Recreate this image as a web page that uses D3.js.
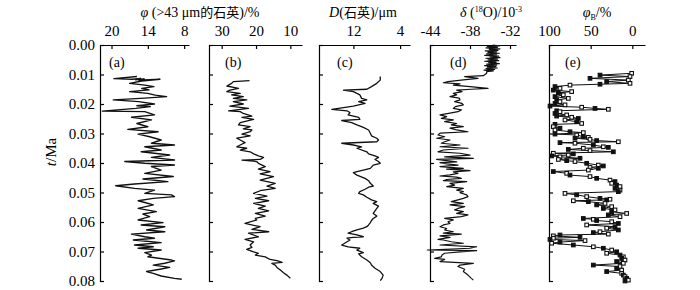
<!DOCTYPE html>
<html>
<head>
<meta charset="utf-8">
<script src="https://cdn.jsdelivr.net/npm/d3@7"></script>
<style>
  body { margin: 0; background: #fff; }
  text { font-family: "Liberation Serif", "Times New Roman", serif; fill: #000; }
</style>
</head>
<body>
<svg id="chart" width="700" height="290"></svg>
<script>

// depth ticks (Ma)
var ageTicks = [0, 0.01, 0.02, 0.03, 0.04, 0.05, 0.06, 0.07, 0.08];

// top axis tick labels per panel
var ticksA = [20, 14, 8];
var ticksB = [30, 20, 10];
var ticksC = [12, 4];
var ticksD = [-44, -38, -32];
var ticksE = [100, 50, 0];

// series as [t (Ma), value]
// (a) quartz > 43 um content, %
var quartzCoarse = [
  [0.0107,15.8],[0.0114,19.6],[0.0116,16.5],[0.0113,15.2],[0.0118,16.0],[0.0115,14.6],[0.0119,15.5],[0.0116,12.0],
  [0.0122,15.0],[0.0130,17.0],[0.0136,14.5],[0.0141,13.0],[0.0147,15.0],[0.0152,13.8],[0.0158,17.0],[0.0164,14.0],
  [0.0170,12.8],[0.0175,10.9],[0.0180,14.5],[0.0186,19.7],[0.0192,15.5],[0.0200,12.9],[0.0206,15.8],[0.0209,13.6],
  [0.0215,16.0],[0.0224,21.5],[0.0226,14.5],[0.0237,12.9],[0.0245,16.7],[0.0254,13.4],[0.0266,15.8],[0.0277,14.0],
  [0.0286,17.3],[0.0294,12.3],[0.0302,15.6],[0.0311,13.7],[0.0322,11.8],[0.0333,13.4],[0.0339,9.6],[0.0345,14.5],
  [0.0356,11.8],[0.0362,15.1],[0.0373,10.4],[0.0381,13.4],[0.0390,9.6],[0.0395,17.8],[0.0401,14.5],[0.0407,9.6],
  [0.0412,13.4],[0.0424,11.8],[0.0435,14.5],[0.0446,9.8],[0.0454,14.8],[0.0463,10.7],[0.0471,16.2],[0.0477,19.3],
  [0.0486,16.2],[0.0492,12.9],[0.0503,14.5],[0.0508,10.1],[0.0514,9.6],[0.0520,13.1],[0.0528,15.6],[0.0534,14.5],
  [0.0542,13.1],[0.0554,15.6],[0.0565,12.6],[0.0573,14.8],[0.0582,13.7],[0.0593,15.6],[0.0602,11.5],[0.0610,15.1],
  [0.0616,11.2],[0.0627,14.2],[0.0633,11.2],[0.0641,16.7],[0.0650,14.5],[0.0655,12.9],[0.0661,16.4],[0.0670,11.8],
  [0.0678,16.2],[0.0684,13.1],[0.0689,15.6],[0.0695,11.8],[0.0704,14.5],[0.0712,13.4],[0.0718,14.0],[0.0729,10.1],
  [0.0732,9.6],[0.0740,11.2],[0.0746,13.1],[0.0754,10.4],[0.0760,12.0],[0.0768,14.2],[0.0774,13.1],[0.0783,11.8],
  [0.0791,9.6],[0.0794,8.4]
];

// (b)
var quartzCoarseB = [
  [0.0121,21.9],[0.0124,26.6],[0.0130,27.1],[0.0139,28.5],[0.0147,25.1],[0.0153,27.6],[0.0158,28.5],[0.0164,24.6],
  [0.0169,27.1],[0.0175,23.7],[0.0181,26.6],[0.0186,22.7],[0.0192,26.6],[0.0200,23.7],[0.0207,27.6],[0.0215,22.2],
  [0.0223,28.0],[0.0226,24.6],[0.0232,23.7],[0.0241,21.2],[0.0245,24.1],[0.0252,20.7],[0.0256,22.2],[0.0263,24.6],
  [0.0271,25.1],[0.0277,21.7],[0.0284,23.7],[0.0288,21.2],[0.0294,21.7],[0.0302,24.1],[0.0308,21.7],[0.0316,25.6],
  [0.0322,24.6],[0.0331,23.2],[0.0339,24.6],[0.0345,25.6],[0.0350,22.7],[0.0356,24.6],[0.0362,21.7],[0.0369,20.7],
  [0.0376,19.3],[0.0381,17.8],[0.0388,18.8],[0.0390,24.1],[0.0395,19.8],[0.0401,19.3],[0.0412,17.3],[0.0421,19.3],
  [0.0429,15.9],[0.0437,18.8],[0.0446,14.9],[0.0458,18.8],[0.0469,14.4],[0.0478,16.8],[0.0486,14.4],[0.0494,18.8],
  [0.0503,20.7],[0.0512,16.8],[0.0520,20.2],[0.0528,16.3],[0.0537,20.7],[0.0546,17.3],[0.0554,19.3],[0.0562,16.3],
  [0.0571,20.2],[0.0580,17.3],[0.0588,20.2],[0.0593,19.8],[0.0605,23.2],[0.0616,18.8],[0.0625,21.2],[0.0633,16.3],
  [0.0638,22.2],[0.0650,19.3],[0.0659,23.2],[0.0667,20.7],[0.0678,21.7],[0.0686,21.2],[0.0693,22.7],[0.0701,20.7],
  [0.0706,19.3],[0.0712,20.2],[0.0718,17.3],[0.0727,15.9],[0.0731,13.9],[0.0737,12.4],[0.0740,15.4],[0.0746,14.4],
  [0.0754,13.9],[0.0763,12.9],[0.0772,12.0],[0.0780,11.0],[0.0791,10.0]
];

// (c) quartz median grain size, um
var quartzSize = [
  [0.0107,7.4],[0.0119,7.4],[0.0130,8.0],[0.0141,8.9],[0.0150,9.7],[0.0153,13.7],[0.0158,12.0],[0.0169,10.9],
  [0.0181,10.6],[0.0186,9.7],[0.0192,11.1],[0.0198,10.0],[0.0207,12.0],[0.0218,15.7],[0.0223,13.1],[0.0229,12.6],
  [0.0237,12.9],[0.0245,11.1],[0.0252,10.9],[0.0256,14.0],[0.0263,12.3],[0.0271,11.4],[0.0279,10.3],[0.0288,9.4],
  [0.0299,9.1],[0.0308,8.9],[0.0316,8.0],[0.0322,7.7],[0.0328,8.0],[0.0333,14.0],[0.0339,12.0],[0.0345,10.6],
  [0.0350,11.4],[0.0362,9.7],[0.0369,9.4],[0.0376,8.3],[0.0381,7.7],[0.0388,8.3],[0.0395,7.7],[0.0401,7.4],
  [0.0407,8.6],[0.0418,9.1],[0.0424,10.3],[0.0429,11.4],[0.0433,12.0],[0.0441,11.4],[0.0452,10.0],[0.0460,9.4],
  [0.0469,9.1],[0.0478,8.6],[0.0482,9.4],[0.0489,10.0],[0.0497,10.9],[0.0503,11.1],[0.0508,10.3],[0.0516,9.7],
  [0.0525,8.9],[0.0531,8.0],[0.0537,8.6],[0.0546,7.7],[0.0554,8.0],[0.0562,8.3],[0.0571,8.6],[0.0580,8.0],
  [0.0588,8.6],[0.0595,8.9],[0.0602,9.1],[0.0610,9.4],[0.0616,9.7],[0.0621,10.3],[0.0627,11.4],[0.0633,12.3],
  [0.0638,12.9],[0.0644,11.4],[0.0650,10.3],[0.0652,12.0],[0.0655,13.1],[0.0661,12.6],[0.0678,14.0],[0.0684,12.9],
  [0.0689,10.9],[0.0695,11.4],[0.0704,10.3],[0.0708,11.1],[0.0718,10.6],[0.0729,9.7],[0.0738,9.1],[0.0746,8.9],
  [0.0757,8.3],[0.0768,7.4],[0.0780,6.9],[0.0791,7.1],[0.0799,7.4]
];

// (d) ice core d18O, per mil
var d18O = [
  [0.0000,-34.6],[0.0003,-33.6],[0.0005,-35.4],[0.0008,-33.9],[0.0010,-35.6],[0.0013,-33.5],[0.0015,-35.1],[0.0018,-33.8],
  [0.0020,-35.7],[0.0023,-34.0],[0.0025,-35.3],[0.0028,-33.6],[0.0030,-35.5],[0.0033,-34.0],[0.0035,-35.8],[0.0038,-33.7],
  [0.0040,-35.0],[0.0043,-33.5],[0.0045,-35.6],[0.0048,-33.9],[0.0050,-35.3],[0.0053,-33.7],[0.0055,-35.8],[0.0058,-34.1],
  [0.0060,-35.2],[0.0063,-33.6],[0.0065,-35.5],[0.0068,-34.0],[0.0070,-35.8],[0.0073,-34.1],[0.0075,-35.4],[0.0078,-33.9],
  [0.0080,-35.6],[0.0083,-34.3],[0.0085,-35.9],[0.0088,-34.5],[0.0090,-35.5],[0.0096,-35.5],[0.0104,-36.0],[0.0107,-38.8],
  [0.0113,-36.8],[0.0118,-39.0],[0.0124,-41.3],[0.0128,-42.0],[0.0132,-39.5],[0.0136,-40.5],[0.0141,-38.0],[0.0147,-35.3],
  [0.0150,-37.8],[0.0153,-40.0],[0.0158,-39.2],[0.0164,-40.5],[0.0169,-40.0],[0.0175,-41.0],[0.0180,-39.6],[0.0186,-39.5],
  [0.0192,-40.3],[0.0198,-39.2],[0.0203,-39.0],[0.0209,-40.2],[0.0215,-40.5],[0.0220,-39.3],[0.0226,-39.8],[0.0231,-41.0],
  [0.0237,-42.5],[0.0243,-41.5],[0.0249,-42.3],[0.0254,-40.5],[0.0260,-41.8],[0.0266,-40.0],[0.0271,-40.8],[0.0277,-39.0],
  [0.0282,-41.0],[0.0288,-40.0],[0.0294,-38.3],[0.0299,-42.5],[0.0305,-42.8],[0.0311,-41.8],[0.0316,-43.0],[0.0322,-41.0],
  [0.0328,-41.8],[0.0333,-42.3],[0.0339,-39.5],[0.0345,-42.5],[0.0350,-38.3],[0.0356,-42.0],[0.0362,-42.8],[0.0367,-39.5],
  [0.0373,-38.0],[0.0379,-41.8],[0.0384,-37.5],[0.0388,-43.0],[0.0392,-41.5],[0.0396,-40.0],[0.0399,-42.5],[0.0403,-41.5],
  [0.0407,-39.8],[0.0412,-42.5],[0.0418,-39.0],[0.0421,-41.5],[0.0426,-38.0],[0.0430,-40.5],[0.0435,-39.8],[0.0440,-41.0],
  [0.0444,-42.5],[0.0448,-40.0],[0.0452,-39.3],[0.0456,-41.5],[0.0460,-42.0],[0.0463,-38.5],[0.0469,-41.0],[0.0475,-40.3],
  [0.0480,-41.5],[0.0486,-39.0],[0.0492,-40.0],[0.0497,-39.0],[0.0501,-39.5],[0.0508,-38.5],[0.0514,-38.3],[0.0520,-39.0],
  [0.0525,-39.8],[0.0531,-40.8],[0.0537,-39.0],[0.0542,-41.0],[0.0548,-38.8],[0.0554,-39.8],[0.0559,-40.3],[0.0565,-39.0],
  [0.0571,-40.0],[0.0576,-38.3],[0.0582,-39.3],[0.0588,-41.8],[0.0593,-40.5],[0.0599,-41.3],[0.0605,-41.0],[0.0610,-42.0],
  [0.0616,-42.5],[0.0622,-41.5],[0.0627,-41.8],[0.0633,-40.5],[0.0638,-42.0],[0.0641,-39.3],[0.0647,-42.5],[0.0652,-41.0],
  [0.0659,-42.8],[0.0661,-42.0],[0.0667,-40.8],[0.0672,-39.0],[0.0678,-42.5],[0.0684,-37.0],[0.0689,-38.0],[0.0695,-44.4],
  [0.0697,-37.0],[0.0701,-39.5],[0.0706,-41.8],[0.0712,-42.2],[0.0718,-42.3],[0.0723,-43.3],[0.0727,-41.8],[0.0734,-42.5],
  [0.0740,-37.5],[0.0746,-39.5],[0.0751,-39.8],[0.0760,-38.8],[0.0768,-39.0],[0.0780,-38.3],[0.0791,-37.8],[0.0797,-37.5]
];

// (e) phi_B, %
var phiB = [
  [0.0096,0.8],[0.0102,38.8],[0.0107,2.8],[0.0113,50.8],[0.0119,4.8],[0.0124,30.8],[0.0130,2.8],[0.0133,38.8],
  [0.0136,74.8],[0.0141,92.8],[0.0147,86.8],[0.0153,94.8],[0.0158,72.8],[0.0162,88.8],[0.0169,82.8],[0.0175,92.8],
  [0.0181,76.8],[0.0186,90.8],[0.0192,86.8],[0.0198,92.8],[0.0203,80.8],[0.0207,98.8],[0.0211,60.8],[0.0215,44.8],
  [0.0218,28.8],[0.0223,90.8],[0.0226,86.8],[0.0232,92.8],[0.0237,78.8],[0.0241,90.8],[0.0245,72.8],[0.0249,64.8],
  [0.0254,80.8],[0.0260,66.8],[0.0266,60.8],[0.0269,92.8],[0.0277,94.8],[0.0282,86.8],[0.0288,92.8],[0.0294,74.8],
  [0.0297,58.8],[0.0302,92.8],[0.0305,66.8],[0.0311,58.8],[0.0313,52.8],[0.0316,68.8],[0.0320,50.8],[0.0324,42.8],
  [0.0328,16.8],[0.0331,86.8],[0.0333,68.8],[0.0339,46.8],[0.0345,34.8],[0.0347,28.8],[0.0350,58.8],[0.0354,76.8],
  [0.0358,50.8],[0.0362,22.8],[0.0367,94.8],[0.0369,70.8],[0.0373,76.8],[0.0376,96.8],[0.0379,86.8],[0.0384,62.8],
  [0.0388,88.8],[0.0392,78.8],[0.0395,68.8],[0.0401,54.8],[0.0407,40.8],[0.0410,34.8],[0.0415,50.8],[0.0418,40.8],
  [0.0424,52.8],[0.0429,94.8],[0.0435,78.8],[0.0441,74.8],[0.0446,50.8],[0.0452,42.8],[0.0458,26.8],[0.0463,20.8],
  [0.0469,24.8],[0.0475,18.8],[0.0480,14.8],[0.0486,20.8],[0.0492,14.8],[0.0497,16.8],[0.0503,80.8],[0.0508,66.8],
  [0.0514,54.8],[0.0520,38.8],[0.0523,26.8],[0.0525,30.8],[0.0528,70.8],[0.0531,52.8],[0.0537,32.8],[0.0542,42.8],
  [0.0548,24.8],[0.0554,34.8],[0.0559,20.8],[0.0565,24.8],[0.0571,6.8],[0.0576,28.8],[0.0582,14.8],[0.0588,58.8],
  [0.0591,46.8],[0.0595,42.8],[0.0599,24.8],[0.0605,16.8],[0.0610,54.8],[0.0616,20.8],[0.0621,30.8],[0.0627,16.8],
  [0.0633,38.8],[0.0636,46.8],[0.0641,28.8],[0.0644,86.8],[0.0647,94.8],[0.0652,62.8],[0.0655,94.8],[0.0659,98.8],
  [0.0663,56.8],[0.0668,86.8],[0.0672,96.8],[0.0678,70.8],[0.0684,46.8],[0.0689,34.8],[0.0695,24.8],[0.0701,18.8],
  [0.0706,30.8],[0.0712,14.8],[0.0718,10.8],[0.0723,12.8],[0.0729,8.8],[0.0734,18.8],[0.0740,10.8],[0.0746,46.8],
  [0.0751,14.8],[0.0757,18.8],[0.0763,12.8],[0.0768,30.8],[0.0774,12.8],[0.0780,10.8],[0.0785,8.8],[0.0791,6.8],
  [0.0797,4.8],[0.0800,8.8]
];

var svg = d3.select("#chart");

var y = d3.scaleLinear().domain([0, 0.08]).range([45, 281]);

var panels = [
  { key: "a", data: quartzCoarse,  domain: [21.9, 7.2],   range: [100, 189], ticks: ticksA, lw: 1.4, lab: 9 },
  { key: "b", data: quartzCoarseB, domain: [33.7, 6.6],   range: [209, 302], ticks: ticksB, lw: 1.3, lab: 16 },
  { key: "c", data: quartzSize,    domain: [17.9, 2.3],   range: [319, 410], ticks: ticksC, lw: 1.3, lab: 18 },
  { key: "d", data: d18O,          domain: [-44, -31.1],  range: [430, 516], ticks: ticksD, lw: 1.2, lab: 20 },
  { key: "e", data: phiB,          domain: [100, -15.2],  range: [549, 645], ticks: ticksE, lw: 1.0, lab: 16 }
];

panels.forEach(function(p) {
  var x = d3.scaleLinear().domain(p.domain).range(p.range);
  var g = svg.append("g").attr("class", "panel-" + p.key);

  // top axis, ticks pointing down into the panel
  var top = g.append("g")
    .attr("transform", "translate(0," + y(0) + ")")
    .call(d3.axisTop(x).tickValues(p.ticks).tickSizeInner(-4).tickSizeOuter(0).tickPadding(9)
      .tickFormat(function(d) { return String(d); }));
  top.attr("font-size", 15).attr("font-family", null);
  top.selectAll("line, path").attr("stroke", "#000").attr("stroke-width", 1.2);

  // left axis with inward ticks
  var left = g.append("g")
    .attr("transform", "translate(" + p.range[0] + ",0)")
    .call(d3.axisRight(y).tickValues(ageTicks).tickSizeInner(4).tickSizeOuter(4).tickFormat(""));
  left.selectAll("line, path").attr("stroke", "#000").attr("stroke-width", 1.2);

  var line = d3.line()
    .x(function(d) { return x(d[1]); })
    .y(function(d) { return y(d[0]); });

  g.append("path")
    .datum(p.data)
    .attr("fill", "none")
    .attr("stroke", "#111")
    .attr("stroke-width", p.lw)
    .attr("stroke-linejoin", "round")
    .attr("d", line);

  if (p.key == "e") {
    g.selectAll("rect.pt")
      .data(p.data)
      .enter()
      .append("rect")
      .attr("class", "pt")
      .attr("x", function(d) { return x(d[1]) - 1.8; })
      .attr("y", function(d) { return y(d[0]) - 1.8; })
      .attr("width", 3.6)
      .attr("height", 3.6)
      .attr("fill", function(d, i) { return i % 2 ? "#111" : "#fff"; })
      .attr("stroke", "#111")
      .attr("stroke-width", 1.1);
  }

  g.append("text")
    .attr("x", p.range[0] + p.lab)
    .attr("y", 67)
    .attr("font-size", 14)
    .text("(" + p.key + ")");
});

// age labels on the left of panel (a)
var ageAxis = svg.append("g")
  .attr("transform", "translate(100,0)")
  .call(d3.axisLeft(y).tickValues(ageTicks).tickSize(0).tickPadding(5).tickFormat(d3.format(".2f")));
ageAxis.attr("font-size", 15).attr("font-family", null);
ageAxis.select(".domain").remove();

// rich text helper: parts {t, i (italic), cjk, sup, sub}
function richText(x, yPos, parts) {
  var t = svg.append("text").attr("x", x).attr("y", yPos)
    .attr("text-anchor", "middle").attr("font-size", 14);
  var shift = 0;
  parts.forEach(function(s) {
    var ts = t.append("tspan").text(s.t);
    var want = s.sup ? -5 : (s.sub ? 3 : 0);
    if (want != shift) { ts.attr("dy", want - shift); shift = want; }
    if (s.i) ts.attr("font-style", "italic");
    if (s.cjk) ts.style("font-family", "'Noto Sans CJK SC'").attr("font-size", 13);
    if (s.sup || s.sub) ts.attr("font-size", 8);
  });
  return t;
}

richText(200, 17, [{t: "φ", i: true}, {t: " (>43 μm"}, {t: "的石英", cjk: true}, {t: ")/%"}]);
richText(363, 17, [{t: "D", i: true}, {t: "("}, {t: "石英", cjk: true}, {t: ")/μm"}]);
richText(491, 17, [{t: "δ", i: true}, {t: " ("}, {t: "18", sup: true}, {t: "O)/10"}, {t: "-3", sup: true}]);
richText(597, 17, [{t: "φ", i: true}, {t: "B", sub: true}, {t: "/%"}]);

// vertical axis title
var yTitle = svg.append("text")
  .attr("transform", "translate(56,152) rotate(-90)")
  .attr("text-anchor", "middle")
  .attr("font-size", 15);
yTitle.append("tspan").attr("font-style", "italic").text("t");
yTitle.append("tspan").text("/Ma");

</script>
</body>
</html>
